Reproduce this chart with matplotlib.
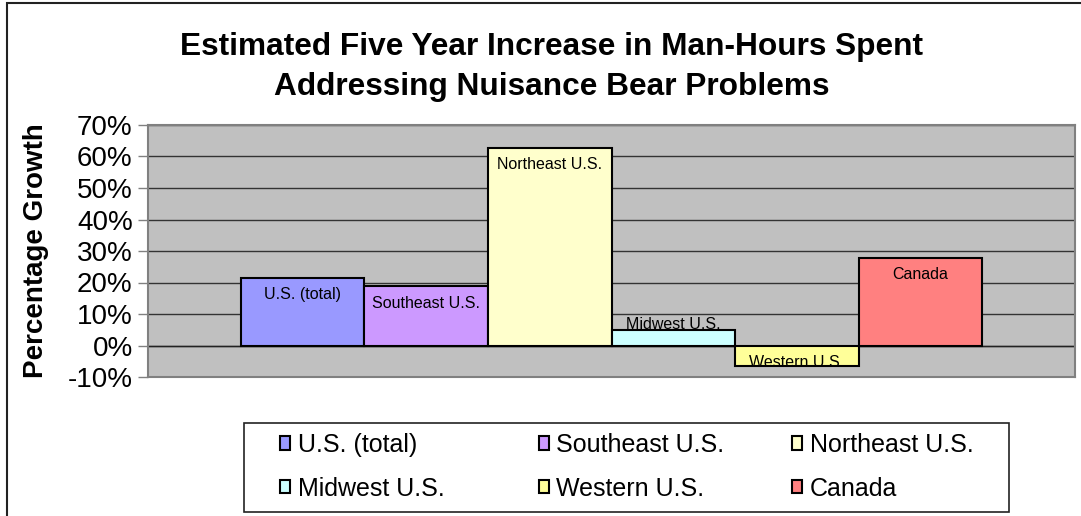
import matplotlib.pyplot as plt
import matplotlib.patches as mpatches
from matplotlib.ticker import FuncFormatter

plt.rcParams['font.family'] = ['Liberation Sans', 'DejaVu Sans']

regions = ["U.S. (total)", "Southeast U.S.", "Northeast U.S.",
           "Midwest U.S.", "Western U.S.", "Canada"]
growth = [21.5, 18.8, 62.8, 4.8, -6.5, 27.8]
colors = ["#9999FF", "#CC99FF", "#FFFFCC", "#CCFFFF", "#FFFF99", "#FF8080"]
yticks = [-10, 0, 10, 20, 30, 40, 50, 60, 70]

W, H = 1081, 516
fig = plt.figure(figsize=(W / 100, H / 100), dpi=100)

# chart border (top and left only visible)
fig.add_artist(mpatches.Rectangle((7 / W, -0.1), 1.2, 1 - 3 / H + 0.1,
                                  transform=fig.transFigure, fill=False,
                                  edgecolor="#222222", lw=1.5))

ax = fig.add_axes([148 / W, (H - 377) / H, (1075 - 148) / W, (377 - 125) / H])
ax.set_facecolor("#C0C0C0")

bw = 0.1333
n = len(regions)
bars = []
for i, (name, v, c) in enumerate(zip(regions, growth, colors)):
    x = (i - (n - 1) / 2) * bw
    b = ax.bar(x, v, width=bw, color=c, edgecolor="black", lw=1.5, zorder=3, label=name)
    bars.append(b[0])
    # data labels, Excel style "inside end"
    if abs(v) >= 10:
        off = -17 if v > 0 else 17
    elif v > 0:
        off = 6
    else:
        off = 3
    ax.annotate(name, (x, v), xytext=(0, off * 0.72), textcoords="offset points",
                ha="center", va="center", fontsize=11.5, zorder=4)

ax.set_xlim(-0.5, 0.5)
ax.set_ylim(-10, 70)
ax.set_yticks(yticks)
ax.yaxis.set_major_formatter(FuncFormatter(lambda v, p: f"{v:.0f}%"))
ax.tick_params(axis="y", labelsize=20, length=7, width=1, color="#808080", pad=4)
ax.set_xticks([])
ax.grid(axis="y", color="#333333", lw=1, zorder=1)
ax.axhline(0, color="#222222", lw=1, zorder=2)
for s in ax.spines.values():
    s.set_color("#808080")
    s.set_linewidth(1.5)

ax.set_ylabel("Percentage Growth", fontsize=20, fontweight="bold")
ax.yaxis.set_label_coords((49 - 148) / (1075 - 148), 0.5)

fig.text(552 / W, 1 - 47 / H, "Estimated Five Year Increase in Man-Hours Spent",
         ha="center", va="center", fontsize=22.8, fontweight="bold")
fig.text(552 / W, 1 - 87 / H, "Addressing Nuisance Bear Problems",
         ha="center", va="center", fontsize=22.8, fontweight="bold")

# legend frame + one legend per column (Excel uses equal column widths)
fig.add_artist(mpatches.Rectangle((244 / W, 1 - 512 / H), (1009 - 244) / W, (512 - 423) / H,
                                  transform=fig.transFigure, facecolor="white",
                                  edgecolor="#222222", lw=1.2))
col_x = [280, 539, 792]
for c in range(3):
    idx = [c, c + 3]
    lg = fig.legend([bars[k] for k in idx], [regions[k] for k in idx],
                    loc="upper left", bbox_to_anchor=(col_x[c] / W, 1 - 433 / H),
                    fontsize=18, frameon=False, handlelength=0.4, handleheight=0.45,
                    handletextpad=0.3, borderaxespad=0, borderpad=0, labelspacing=0.78)

fig.savefig("out.png", dpi=100)
